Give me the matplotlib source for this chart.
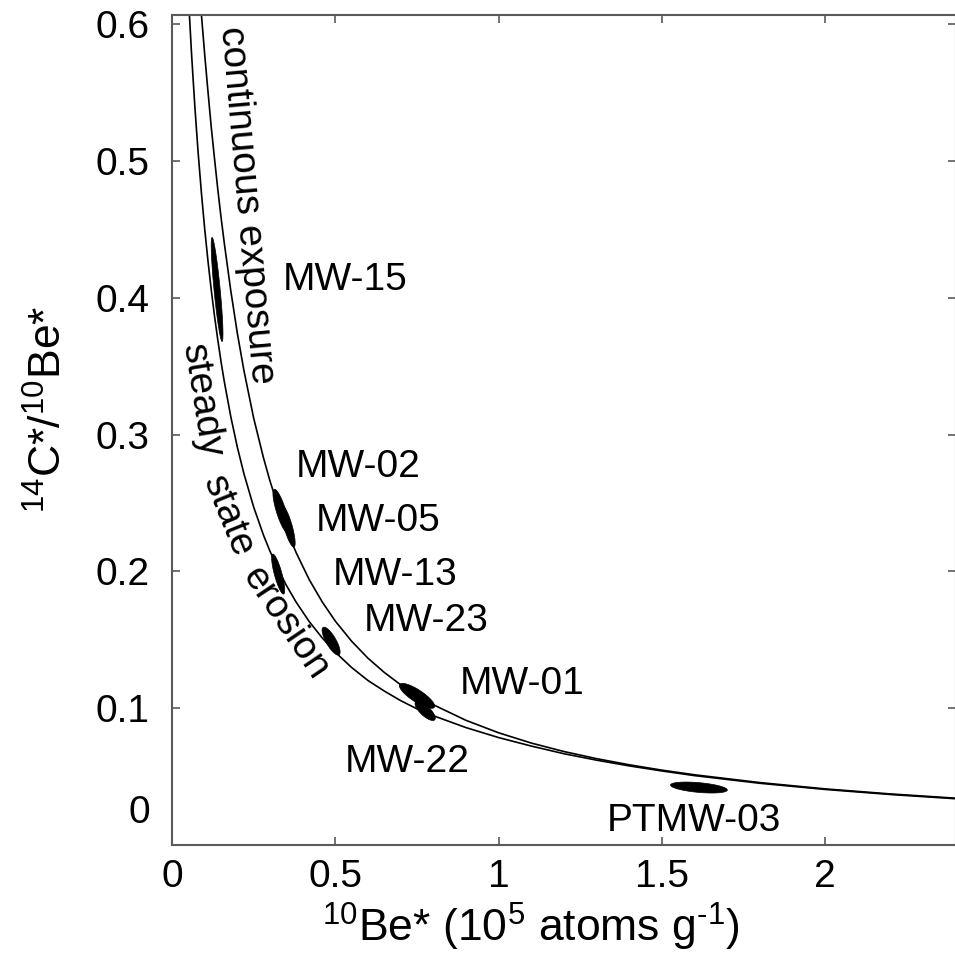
import numpy as np
import matplotlib
matplotlib.use("Agg")
import matplotlib.pyplot as plt
from matplotlib.transforms import ScaledTranslation

plt.rcParams["font.family"] = ["Liberation Sans", "DejaVu Sans"]
plt.rcParams["mathtext.fontset"] = "custom"
plt.rcParams["mathtext.rm"] = "Liberation Sans"
plt.rcParams["mathtext.it"] = "Liberation Sans:italic"
plt.rcParams["mathtext.bf"] = "Liberation Sans:bold"

# Model curves: 10Be* (1e5 atoms/g) vs 14C*/10Be*
cont_x = [0.075, 0.08, 0.09, 0.10, 0.11, 0.12, 0.13, 0.14, 0.15, 0.16, 0.18, 0.20,
          0.22, 0.25, 0.28, 0.30, 0.32, 0.35, 0.38, 0.42, 0.46, 0.50, 0.55, 0.60,
          0.65, 0.70, 0.75, 0.80, 0.90, 1.00, 1.10, 1.20, 1.30, 1.40, 1.50, 1.60,
          1.80, 2.00, 2.20, 2.40]
cont_y = [0.655, 0.639, 0.607, 0.578, 0.551, 0.525, 0.502, 0.4795, 0.459, 0.440, 0.405, 0.374,
          0.347, 0.312, 0.283, 0.266, 0.251, 0.231, 0.2137, 0.194, 0.1776, 0.1636, 0.1489, 0.1365,
          0.1261, 0.1171, 0.1093, 0.1025, 0.0911, 0.082, 0.0745, 0.0683, 0.0631, 0.0586, 0.0547, 0.0513,
          0.0456, 0.041, 0.0373, 0.0342]

ss_x = [0.040, 0.045, 0.050, 0.060, 0.070, 0.080, 0.090, 0.100, 0.110, 0.120, 0.130,
        0.140, 0.150, 0.160, 0.180, 0.200, 0.220, 0.250, 0.280, 0.300, 0.320, 0.350,
        0.380, 0.420, 0.460, 0.500, 0.550, 0.600, 0.650, 0.700, 0.750, 0.800, 0.900,
        1.00, 1.10, 1.20, 1.30, 1.40, 1.50, 1.60, 1.80, 2.00, 2.20, 2.40]
ss_y = [0.672, 0.6457, 0.621, 0.5775, 0.5395, 0.506, 0.4767, 0.4505, 0.4271, 0.406, 0.3868,
        0.3694, 0.3534, 0.3388, 0.313, 0.2908, 0.2715, 0.247, 0.2265, 0.2147, 0.204, 0.1898,
        0.1775, 0.1633, 0.1513, 0.1409, 0.1297, 0.1202, 0.1125, 0.1055, 0.0995, 0.0945, 0.0858,
        0.0785, 0.0723, 0.0667, 0.062, 0.0578, 0.0541, 0.0507, 0.0451, 0.0406, 0.0369, 0.0338]

# Samples: centre, 1-sigma half extents and correlation of the error ellipse
samples = ["MW-15", "MW-02", "MW-05", "MW-13", "MW-23", "MW-01", "MW-22", "PTMW-03"]
be10 = [0.138, 0.334, 0.355, 0.325, 0.487, 0.750, 0.775, 1.613]
ratio = [0.406, 0.244, 0.233, 0.198, 0.149, 0.109, 0.098, 0.042]
sig_x = [0.018, 0.025, 0.022, 0.020, 0.0276, 0.054, 0.031, 0.087]
sig_y = [0.038, 0.016, 0.0153, 0.0146, 0.0102, 0.0091, 0.0070, 0.0040]
rho = [-0.85, -0.80, -0.80, -0.80, -0.78, -0.82, -0.75, -0.45]

# Sample label anchors (left edge, vertical centre)
lab_x = [0.340, 0.380, 0.441, 0.493, 0.588, 0.882, 0.530, 1.332]
lab_y = [0.413, 0.276, 0.237, 0.197, 0.1635, 0.118, 0.061, 0.0175]

xticks = [0, 0.5, 1, 1.5, 2]
xticklabels = ["0", "0.5", "1", "1.5", "2"]
yticks = [0, 0.1, 0.2, 0.3, 0.4, 0.5, 0.6]
yticklabels = ["0", "0.1", "0.2", "0.3", "0.4", "0.5", "0.6"]

fig = plt.figure(figsize=(9.55, 9.68), dpi=100)
ax = fig.add_axes([172 / 955, 123 / 968, 784 / 955, 830 / 968])

ax.plot(cont_x, cont_y, color="black", lw=1.2)
ax.plot(ss_x, ss_y, color="black", lw=1.2)

t = np.linspace(0, 2 * np.pi, 200)
for cx, cy, sx, sy, r in zip(be10, ratio, sig_x, sig_y, rho):
    ex = cx + sx * np.cos(t)
    ey = cy + sy * (r * np.cos(t) + np.sqrt(1 - r * r) * np.sin(t))
    ax.fill(ex, ey, color="black", lw=0.5)

fs = 28
for name, lx, ly in zip(samples, lab_x, lab_y):
    ax.text(lx, ly, name, fontsize=fs, ha="left", va="center")

ax.text(0.228, 0.468, "continuous exposure", fontsize=fs, rotation=-85,
        ha="center", va="center", rotation_mode="anchor")
ax.text(0.092, 0.325, "steady", fontsize=fs, rotation=-81,
        ha="center", va="center", rotation_mode="anchor")
ax.text(0.172, 0.240, "state", fontsize=fs, rotation=-68,
        ha="center", va="center", rotation_mode="anchor")
ax.text(0.348, 0.162, "erosion", fontsize=fs, rotation=-56,
        ha="center", va="center", rotation_mode="anchor")

ax.set_xlim(0, 2.4)
ax.set_ylim(0, 0.6066)
ax.set_xticks(xticks)
ax.set_xticklabels(xticklabels)
ax.set_yticks(yticks)
ax.set_yticklabels(yticklabels)

spine_col = "#5a5a5a"
for s in ax.spines.values():
    s.set_color(spine_col)
    s.set_linewidth(1.5)
ax.tick_params(direction="in", top=True, right=True, length=6, width=1.2,
               color=spine_col, labelsize=fs, labelcolor="black")
ax.tick_params(axis="y", pad=16)
ax.tick_params(axis="x", pad=10)

# lift the zero label of the y axis clear of the x axis zero
lab0 = ax.yaxis.get_majorticklabels()[0]
lab0.set_transform(lab0.get_transform() + ScaledTranslation(0, 0.36, fig.dpi_scale_trans))

ax.set_xlabel(r"$^{10}$Be* (10$^{5}$ atoms g$^{\mathrm{‐1}}$)", fontsize=32, x=0.458, labelpad=4)
ax.set_ylabel(r"$^{14}$C*/$^{10}$Be*", fontsize=32, labelpad=18, y=0.525)

fig.savefig("out.png", dpi=100)
